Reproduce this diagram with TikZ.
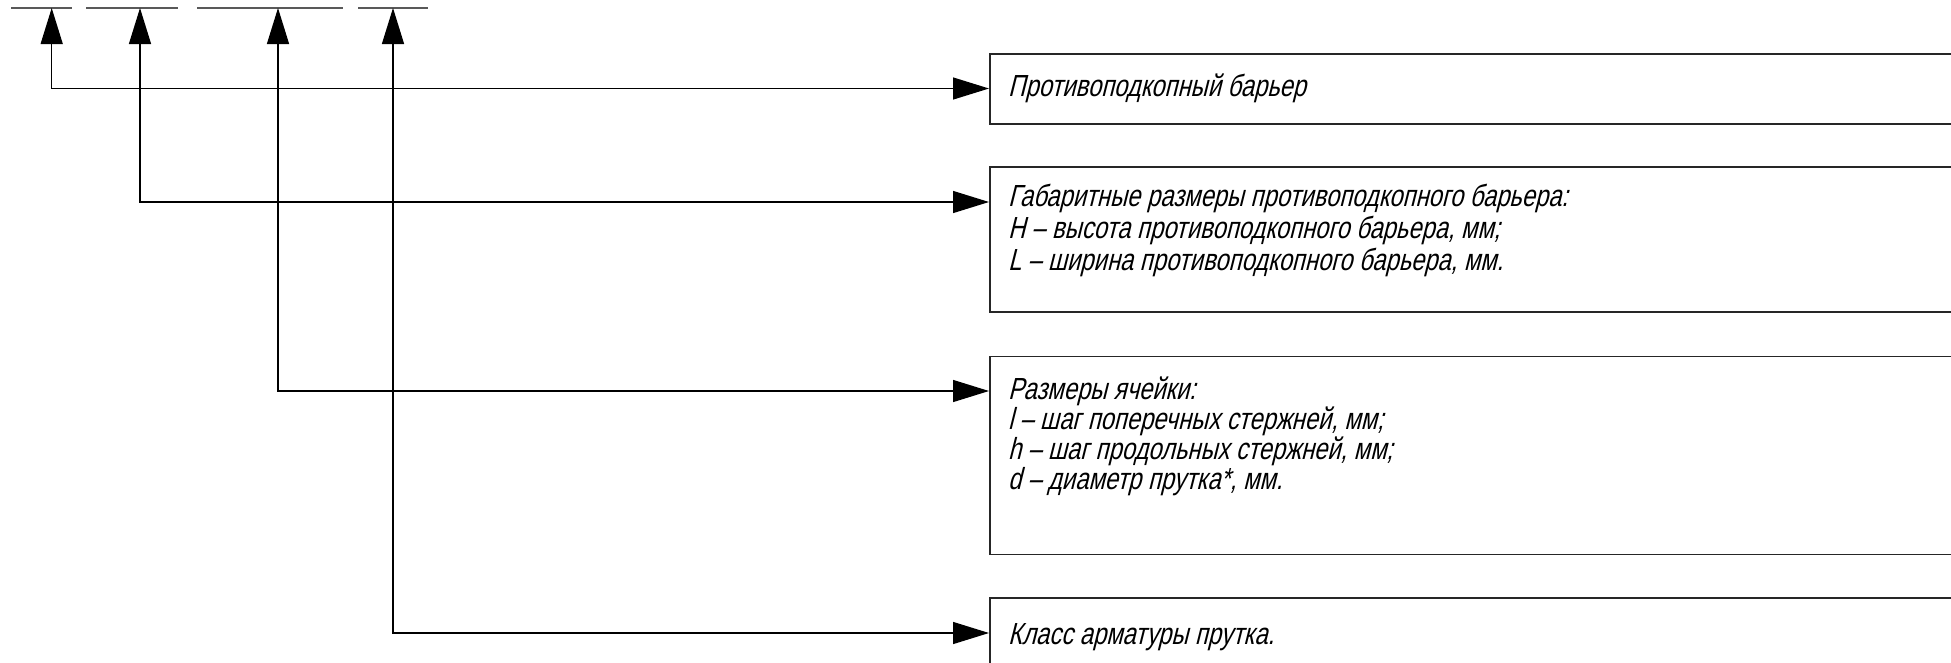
\documentclass[tikz,border=0pt]{standalone}
\usepackage{fontspec}
\newfontfamily\gostfont[FakeStretch=0.78,FakeSlant=0.25]{Liberation Sans}
\usetikzlibrary{arrows.meta}
\begin{document}
\begin{tikzpicture}[x=1pt,y=-1pt,
  boxs/.style={draw=black!85,line width=1.6pt,rectangle,inner sep=0pt,anchor=north west,minimum width=1000pt},
  txt/.style={anchor=base west,inner sep=0pt,font=\gostfont\fontsize{30.5}{34}\selectfont,text=black},
  conn/.style={draw=black,line width=1.3pt,{Triangle[length=36pt,width=22pt]}-{Triangle[length=36pt,width=22pt]}},
  stub/.style={draw=black!65,line width=1.6pt}]
\useasboundingbox (0,0) rectangle (1951,662);
\clip (0,0) rectangle (1951,662);
% stubs
\draw[stub] (11,8) -- (72,8);
\draw[stub] (86,8) -- (178,8);
\draw[stub] (197,8) -- (343,8);
\draw[stub] (358,8) -- (428,8);
% boxes
\node[boxs,minimum height=70pt] (b1) at (989,53) {};
\node[boxs,minimum height=145pt] (b2) at (989,166) {};
\node[boxs,minimum height=198pt] (b3) at (989,355.5) {};
\node[boxs,minimum height=100pt] (b4) at (989,597) {};
% texts
\node[txt] (t1) at (1008,96.5) {Противоподкопный барьер};
\node[txt] (t2a) at (1008,206.5) {Габаритные размеры противоподкопного барьера:};
\node[txt] (t2b) at (1008,238.5) {H – высота противоподкопного барьера, мм;};
\node[txt] (t2c) at (1008,270.5) {L – ширина противоподкопного барьера, мм.};
\node[txt] (t3a) at (1008,399.5) {Размеры ячейки:};
\node[txt] (t3b) at (1008,429.5) {l – шаг поперечных стержней, мм;};
\node[txt] (t3c) at (1008,459.5) {h – шаг продольных стержней, мм;};
\node[txt] (t3d) at (1008,489.5) {d – диаметр прутка*, мм.};
\node[txt] (t4) at (1008,644) {Класс арматуры прутка.};
% connector ends
\coordinate (p1) at (51.7,8);
\coordinate (p2) at (140,8);
\coordinate (p3) at (278,8);
\coordinate (p4) at (393,8);
\coordinate (e1) at ([yshift=-35.5pt]b1.north west);
\coordinate (e2) at ([yshift=-36pt]b2.north west);
\coordinate (e3) at ([yshift=-35.5pt]b3.north west);
\coordinate (e4) at ([yshift=-36pt]b4.north west);
\draw[conn] (p1) |- (e1);
\draw[conn] (p2) |- (e2);
\draw[conn] (p3) |- (e3);
\draw[conn] (p4) |- (e4);
\end{tikzpicture}
\end{document}
